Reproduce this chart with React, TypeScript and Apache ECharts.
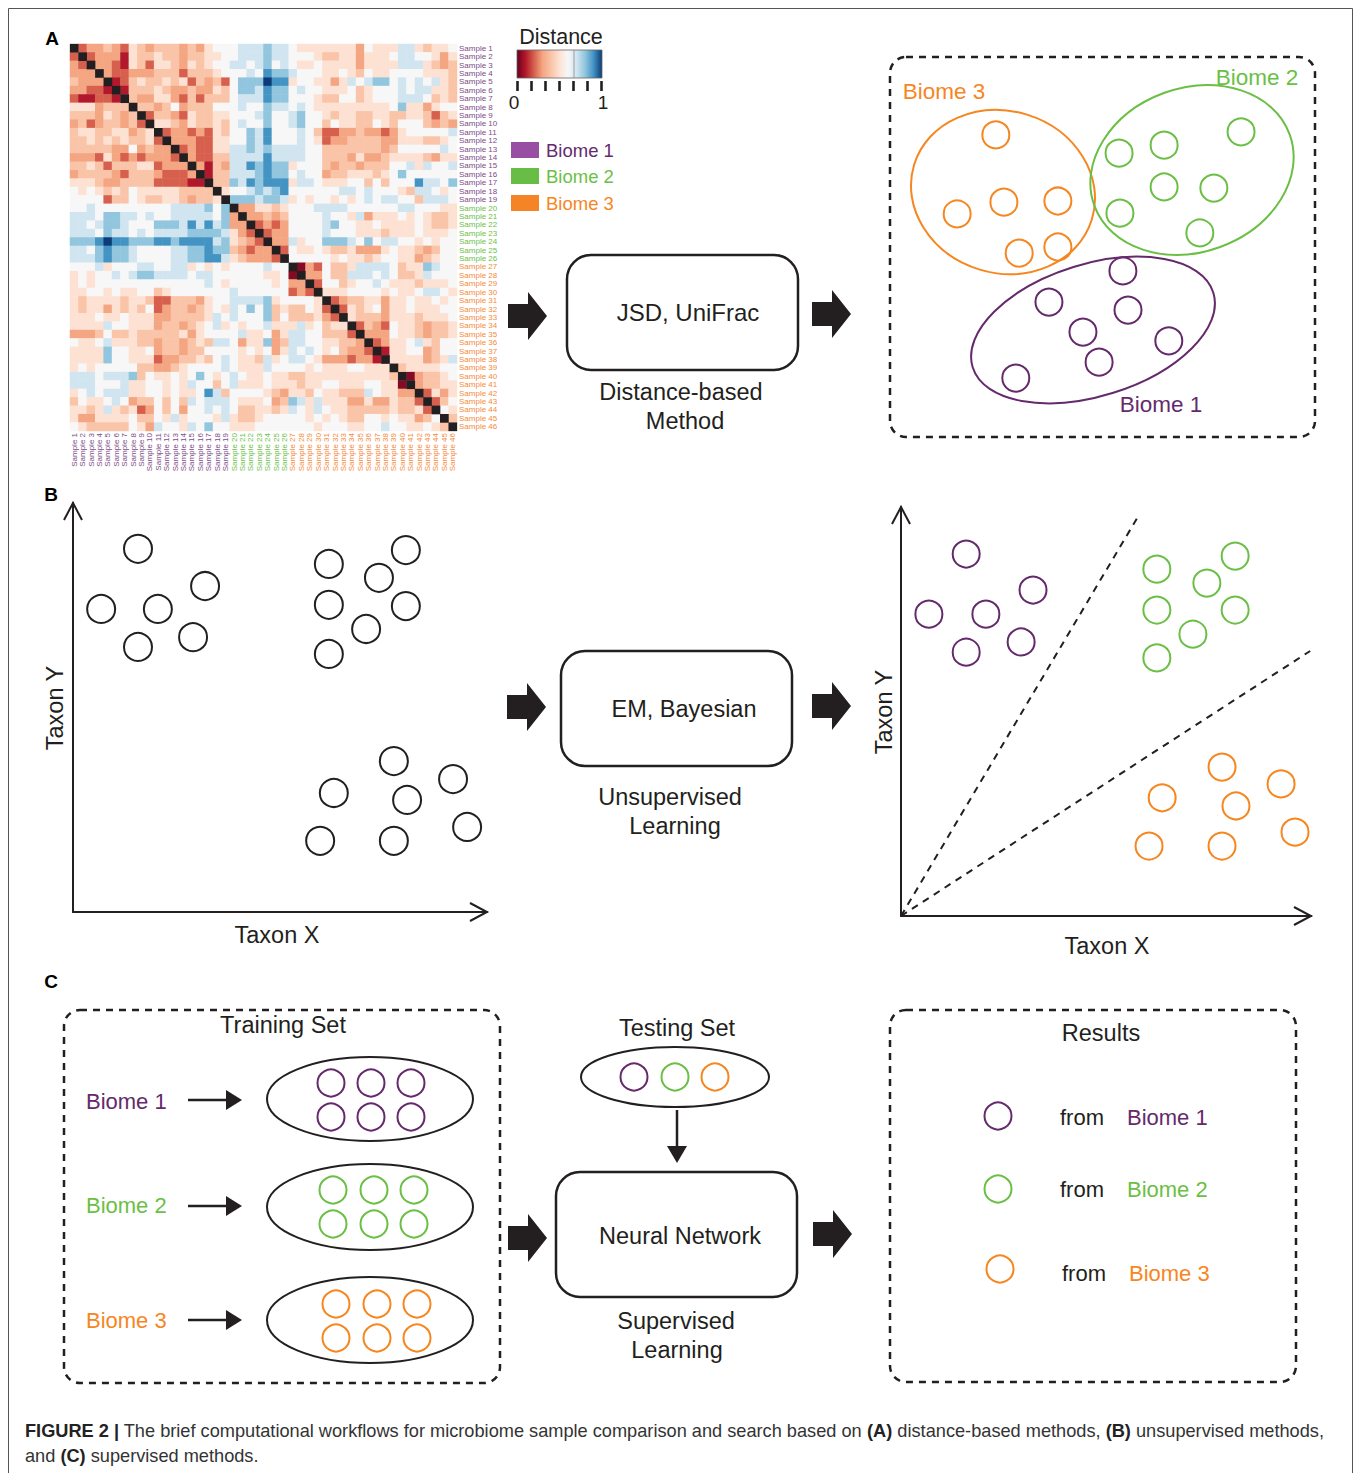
import React, { useEffect, useRef } from "react";
import * as echarts from "echarts";

const FONT = "'Liberation Sans', Arial, Helvetica, sans-serif";
const INK = "#231f20";
const PURPLE = "#652a6c";
const GREEN = "#6bbf45";
const ORANGE = "#f6861f";
const LABEL_COLORS: Record<string, string> = { "1": "#7d4b88", "2": "#6cc04a", "3": "#f58a3a" };

// ---------- Panel A heatmap ----------
const SAMPLE_LABELS = Array.from({ length: 46 }, (_, i) => "Sample " + (i + 1));
// biome of each sample (1..46)
const SAMPLE_BIOME = "1111111111111111111222222233333333333333333333";
// upper triangle of the distance matrix, row r holds columns r+1..46 (level codes)
const DIST_ROWS = [
  "2334325434443435666777" + "87765555555365557754556",
  "233315445443445566777" + "87766654455355567766535",
  "33215425543545667767" + "86765565555355557775434",
  "3223334442444566676" + "98876665565465566665554",
  "124544545243426888" + "a9956655357678867676754",
  "14445433433546887" + "98867665556456667677554",
  "4335532424446777" + "98866654466456667776454",
  "443463444666766" + "87767655555555568553566",
  "24432544556667" + "86678665455445544554245",
  "5543544546766" + "86678664655446546664343",
  "233232546687" + "96667642233433235666667",
  "33322556687" + "96667652334444335554456",
  "2322557787" + "87777664444444346666676",
  "322447777" + "97777664443533455554355",
  "31437798" + "98856664344344466757667",
  "1447778" + "98867663445554568666666",
  "448798" + "99957765556646466697768",
  "56678" + "78966666677676665477656",
  "8887" + "88756566565676776647776",
  "335" + "54566677776666667766655",
  "33" + "43466667665735556565445",
  "2" + "32366667866556555565445",
  "23366667666555455565556",
  "3375668887686776656566",
  "265565445333565543466",
  "66666565545665534566",
  "0326445777764558766",
  "336447776764457666",
  "26645667655545556",
  "5556666565567765",
  "234455355655656",
  "25456355655566",
  "5444355545556",
  "243265543445",
  "33365543445",
  "2355675466",
  "155663466",
  "55553457",
  "4555566",
  "034456",
  "34455",
  "2535",
  "246",
  "65",
  "4",
];
const LEVELS: Record<string, number> = {
  "0": 0.04, "1": 0.1, "2": 0.2, "3": 0.3, "4": 0.4, "5": 0.5,
  "6": 0.6, "7": 0.7, "8": 0.8, "9": 0.9, a: 1.0,
};
const DIST_COLORS = [
  "#67001f", "#b2182b", "#d6604d", "#f4a582", "#f9c4a8", "#fde2d4",
  "#f7f7f7", "#d1e5f0", "#92c5de", "#4393c3", "#0c3b78",
];

// ---------- Panel A ordination (0..100 units) ----------
const A_BIOME3 = [[24.9, 79.5], [15.8, 58.7], [26.8, 61.8], [39.5, 62.1], [30.4, 48.4], [39.5, 50.0]];
const A_BIOME2 = [[53.9, 74.7], [64.5, 76.8], [82.6, 80.3], [64.5, 65.8], [76.2, 65.5], [54.1, 58.9], [72.9, 53.7]];
const A_BIOME1 = [[54.8, 43.7], [37.4, 35.5], [56.0, 33.4], [45.4, 27.6], [65.6, 25.3], [49.2, 19.7], [29.6, 15.5]];

// ---------- Panel B raw samples (Taxon X, Taxon Y) ----------
const B_RAW = [
  [15.7, 88.8], [31.9, 79.7], [6.8, 74.1], [20.5, 74.1], [29.0, 67.2], [15.7, 64.8],
  [61.8, 85.1], [80.4, 88.5], [73.9, 81.7], [61.8, 75.1], [80.4, 74.8], [70.8, 69.2], [61.8, 63.1],
  [77.5, 36.9], [91.8, 32.5], [63.0, 29.1], [80.7, 27.4], [95.2, 20.8], [59.7, 17.4], [77.5, 17.4],
];
// ---------- Panel B clustered ----------
const B_BIOME1 = [[15.9, 88.5], [32.2, 79.7], [6.8, 73.8], [20.7, 73.8], [29.3, 67.0], [15.9, 64.5]];
const B_BIOME2 = [[62.4, 84.8], [81.5, 88.0], [74.6, 81.4], [62.4, 74.8], [81.5, 74.8], [71.2, 68.9], [62.4, 63.1]];
const B_BIOME3 = [[78.3, 36.4], [92.7, 32.3], [63.7, 28.9], [81.7, 26.9], [96.1, 20.5], [60.5, 17.1], [78.3, 17.1]];
const B_BOUNDARY1 = [[0, 0], [57.6, 97.3]];
const B_BOUNDARY2 = [[0, 0], [99.8, 64.8]];

const HM_SIZE = 387;
const HM_N = 46;

function circleScatter(data: number[][], color: string, xi: number, size = 27) {
  return {
    type: "scatter",
    xAxisIndex: xi,
    yAxisIndex: xi,
    data,
    symbol: "circle",
    symbolSize: size,
    silent: true,
    itemStyle: { color: "rgba(0,0,0,0)", borderColor: color, borderWidth: 2, opacity: 1 },
    emphasis: { disabled: true },
  };
}

function txt(text: string, x: number, y: number, size: number, fill = INK, align = "center", extra: any = {}) {
  return {
    type: "text",
    x,
    y,
    silent: true,
    style: { text, fill, fontSize: size, fontFamily: FONT, align, verticalAlign: "middle", ...extra },
  };
}

function blockArrow(x: number, yc: number) {
  return {
    type: "polygon",
    silent: true,
    shape: {
      points: [[x, yc - 12], [x + 20, yc - 12], [x + 20, yc - 24], [x + 39, yc], [x + 20, yc + 24], [x + 20, yc + 12], [x, yc + 12]],
    },
    style: { fill: INK },
  };
}

function thinArrowRight(x1: number, x2: number, y: number) {
  return [
    { type: "line", silent: true, shape: { x1, y1: y, x2: x2 - 14, y2: y }, style: { stroke: INK, lineWidth: 2.5 } },
    { type: "polygon", silent: true, shape: { points: [[x2 - 16, y - 10], [x2, y], [x2 - 16, y + 10]] }, style: { fill: INK } },
  ];
}

function ring(cx: number, cy: number, color: string, r = 13.5) {
  return { type: "circle", silent: true, shape: { cx, cy, r }, style: { fill: "none", stroke: color, lineWidth: 2 } };
}

function ell(cx: number, cy: number, rx: number, ry: number, color: string, rot = 0) {
  return {
    type: "ellipse",
    silent: true,
    x: cx,
    y: cy,
    rotation: rot,
    shape: { cx: 0, cy: 0, rx, ry },
    style: { fill: "none", stroke: color, lineWidth: 2 },
  };
}

function roundBox(x: number, y: number, w: number, h: number, dashed: boolean, r = 24) {
  return {
    type: "rect",
    silent: true,
    shape: { x, y, width: w, height: h, r },
    style: { fill: "none", stroke: INK, lineWidth: 2.5, lineDash: dashed ? [7, 6] : null },
  };
}

function chevron(points: number[][]) {
  return { type: "polyline", silent: true, shape: { points }, style: { stroke: INK, lineWidth: 2, fill: "none" } };
}

function buildHeatmap() {
  const data: number[][] = [];
  for (let i = 0; i < HM_N; i++) {
    for (let j = 0; j < HM_N; j++) {
      if (i === j) continue;
      const v = j > i ? LEVELS[DIST_ROWS[i][j - i - 1]] : LEVELS[DIST_ROWS[j][i - j - 1]];
      data.push([j, i, v ?? 0.6]);
    }
  }
  return data;
}

function buildDiagonal() {
  const d: number[][] = [];
  for (let i = 0; i < HM_N; i++) d.push([i, i]);
  return d;
}

export default function App() {
  const ref = useRef<HTMLDivElement>(null);
  useEffect(() => {
    if (!ref.current) return;
    const chart = echarts.init(ref.current, null, { renderer: "svg" });
    const labelColor = (val: any) => {
      const idx = SAMPLE_LABELS.indexOf(String(val));
      return LABEL_COLORS[SAMPLE_BIOME[idx]] || INK;
    };
    const hiddenAxis = (gi: number) => ({
      type: "value", gridIndex: gi, min: 0, max: 100, show: false,
    });
    const shownAxis = (gi: number) => ({
      type: "value", gridIndex: gi, min: 0, max: 100,
      axisLine: { show: true, lineStyle: { color: INK, width: 2 } },
      axisTick: { show: false }, axisLabel: { show: false }, splitLine: { show: false },
    });
    const LBL = 23.5;

    const graphics: any[] = [
      // outer frame
      { type: "rect", silent: true, shape: { x: 8.5, y: 8.5, width: 1344, height: 1520 }, style: { fill: "none", stroke: "#555", lineWidth: 1 } },
      // panel letters
      txt("A", 52, 38, 19, "#000", "center", { fontWeight: "bold" }),
      txt("B", 51, 494, 19, "#000", "center", { fontWeight: "bold" }),
      txt("C", 51, 981, 19, "#000", "center", { fontWeight: "bold" }),
      // colorbar
      txt("Distance", 561, 37, 21.5),
      {
        type: "rect", silent: true, shape: { x: 517, y: 50, width: 85, height: 28 },
        style: {
          fill: new echarts.graphic.LinearGradient(0, 0, 1, 0, DIST_COLORS.map((c, i) => ({ offset: i / 10, color: c }))),
          stroke: "#666", lineWidth: 0.8,
        },
      },
      { type: "line", silent: true, shape: { x1: 574, y1: 50, x2: 574, y2: 78 }, style: { stroke: "#888", lineWidth: 0.8 } },
      ...[517.5, 531.5, 545.5, 559.5, 573.5, 587.5, 601.5].map((x) => ({
        type: "rect", silent: true, shape: { x: x - 1.3, y: 81, width: 2.6, height: 10 }, style: { fill: INK },
      })),
      txt("0", 514, 102, 19),
      txt("1", 603, 102, 19),
      // biome legend
      { type: "rect", silent: true, shape: { x: 511, y: 142, width: 28, height: 16 }, style: { fill: "#984ea3" } },
      { type: "rect", silent: true, shape: { x: 511, y: 168, width: 28, height: 16 }, style: { fill: "#67bd45" } },
      { type: "rect", silent: true, shape: { x: 511, y: 195, width: 28, height: 16 }, style: { fill: "#f58426" } },
      txt("Biome 1", 546, 150, 18.5, PURPLE, "left"),
      txt("Biome 2", 546, 176, 18.5, GREEN, "left"),
      txt("Biome 3", 546, 203, 18.5, ORANGE, "left"),
      // panel A method
      blockArrow(508, 316),
      roundBox(567, 255, 231, 115, false),
      txt("JSD, UniFrac", 688, 312, 24),
      txt("Distance-based", 681, 392, LBL),
      txt("Method", 685, 421, LBL),
      blockArrow(812, 314),
      roundBox(890, 57, 425, 380, true, 16),
      ell(1003, 192, 93, 81, ORANGE, -0.3),
      ell(1192, 170, 104, 82, GREEN, 0.35),
      ell(1093, 330, 126, 66, PURPLE, 0.3),
      txt("Biome 3", 944, 91, 22.5, ORANGE),
      txt("Biome 2", 1257, 77, 22.5, GREEN),
      txt("Biome 1", 1161, 404, 22.5, PURPLE),
      // panel B
      chevron([[64, 520], [73, 503], [82, 520]]),
      chevron([[470, 903], [487, 912], [470, 921]]),
      {
        type: "text", silent: true, x: 55, y: 708, rotation: Math.PI / 2,
        style: { text: "Taxon Y", fill: INK, fontSize: LBL, fontFamily: FONT, align: "center", verticalAlign: "middle" },
      },
      txt("Taxon X", 277, 935, LBL),
      blockArrow(507, 707),
      roundBox(561, 651, 231, 115, false),
      txt("EM, Bayesian", 684, 709, LBL),
      txt("Unsupervised", 670, 797, LBL),
      txt("Learning", 675, 826, LBL),
      blockArrow(812, 706),
      chevron([[892, 524], [901, 507], [910, 524]]),
      chevron([[1294, 907], [1311, 916], [1294, 925]]),
      {
        type: "text", silent: true, x: 884, y: 712, rotation: Math.PI / 2,
        style: { text: "Taxon Y", fill: INK, fontSize: LBL, fontFamily: FONT, align: "center", verticalAlign: "middle" },
      },
      txt("Taxon X", 1107, 946, LBL),
      // panel C
      roundBox(64, 1010, 436, 373, true, 16),
      txt("Training Set", 283, 1025, LBL),
      txt("Biome 1", 86, 1101, 22, PURPLE, "left"),
      txt("Biome 2", 86, 1205, 22, GREEN, "left"),
      txt("Biome 3", 86, 1320, 22, ORANGE, "left"),
      ...thinArrowRight(188, 242, 1100),
      ...thinArrowRight(188, 242, 1206),
      ...thinArrowRight(188, 242, 1320),
      ell(370, 1099, 103, 42, INK),
      ell(370, 1207, 103, 43, INK),
      ell(370, 1320, 103, 43, INK),
      ...[331, 371, 411].flatMap((x) => [ring(x, 1083, PURPLE), ring(x, 1117, PURPLE)]),
      ...[333, 374, 414].flatMap((x) => [ring(x, 1190, GREEN), ring(x, 1224, GREEN)]),
      ...[336, 377, 417].flatMap((x) => [ring(x, 1304, ORANGE), ring(x, 1338, ORANGE)]),
      txt("Testing Set", 677, 1028, LBL),
      ell(675, 1077, 94, 30, INK),
      ring(634, 1077, PURPLE),
      ring(675, 1077, GREEN),
      ring(715, 1077, ORANGE),
      { type: "line", silent: true, shape: { x1: 677, y1: 1110, x2: 677, y2: 1148 }, style: { stroke: INK, lineWidth: 2.5 } },
      { type: "polygon", silent: true, shape: { points: [[667, 1146], [687, 1146], [677, 1163]] }, style: { fill: INK } },
      blockArrow(508, 1238),
      roundBox(556, 1172, 241, 125, false),
      txt("Neural Network", 680, 1236, LBL),
      txt("Supervised", 676, 1321, LBL),
      txt("Learning", 677, 1350, LBL),
      blockArrow(813, 1234),
      roundBox(890, 1010, 406, 372, true, 16),
      txt("Results", 1101, 1033, LBL),
      ring(998, 1116, PURPLE),
      ring(998, 1189, GREEN),
      ring(1000, 1269, ORANGE),
      txt("from", 1060, 1117, 22, INK, "left"),
      txt("Biome 1", 1127, 1117, 22, PURPLE, "left"),
      txt("from", 1060, 1189, 22, INK, "left"),
      txt("Biome 2", 1127, 1189, 22, GREEN, "left"),
      txt("from", 1062, 1273, 22, INK, "left"),
      txt("Biome 3", 1129, 1273, 22, ORANGE, "left"),
      // caption
      {
        type: "text", silent: true, x: 25, y: 1431,
        style: {
          text: "{b|FIGURE 2 |} The brief computational workflows for microbiome sample comparison and search based on {b|(A)} distance-based methods, {b|(B)} unsupervised methods,",
          fill: "#333", fontSize: 18.2, fontFamily: FONT, align: "left", verticalAlign: "middle",
          rich: { b: { fontWeight: "bold", fontSize: 18.2, fontFamily: FONT, fill: "#222" } },
        },
      },
      {
        type: "text", silent: true, x: 25, y: 1456,
        style: {
          text: "and {b|(C)} supervised methods.",
          fill: "#333", fontSize: 18.2, fontFamily: FONT, align: "left", verticalAlign: "middle",
          rich: { b: { fontWeight: "bold", fontSize: 18.2, fontFamily: FONT, fill: "#222" } },
        },
      },
    ];

    const option: any = {
      animation: false,
      backgroundColor: "#ffffff",
      grid: [
        { left: 70, top: 44, width: HM_SIZE, height: HM_SIZE },
        { left: 890, top: 57, width: 425, height: 380 },
        { left: 73, top: 503, width: 414, height: 409 },
        { left: 901, top: 507, width: 410, height: 409 },
      ],
      xAxis: [
        {
          type: "category", gridIndex: 0, data: SAMPLE_LABELS, position: "bottom",
          axisLine: { show: false }, axisTick: { show: false }, splitLine: { show: false },
          axisLabel: { interval: 0, rotate: 90, fontSize: 8, margin: 2, fontFamily: FONT, color: labelColor },
        },
        hiddenAxis(1),
        shownAxis(2),
        shownAxis(3),
      ],
      yAxis: [
        {
          type: "category", gridIndex: 0, data: SAMPLE_LABELS, inverse: true, position: "right",
          axisLine: { show: false }, axisTick: { show: false }, splitLine: { show: false },
          axisLabel: { interval: 0, fontSize: 8, margin: 2, fontFamily: FONT, color: labelColor },
        },
        hiddenAxis(1),
        shownAxis(2),
        shownAxis(3),
      ],
      visualMap: {
        show: false, type: "continuous", min: 0, max: 1, seriesIndex: 0, dimension: 2,
        inRange: { color: DIST_COLORS },
      },
      series: [
        {
          type: "heatmap", xAxisIndex: 0, yAxisIndex: 0, data: buildHeatmap(),
          silent: true, emphasis: { disabled: true }, progressive: 0,
        },
        {
          type: "scatter", xAxisIndex: 0, yAxisIndex: 0, data: buildDiagonal(),
          symbol: "rect", symbolSize: HM_SIZE / HM_N + 0.3, silent: true,
          itemStyle: { color: INK, opacity: 1 }, emphasis: { disabled: true },
        },
        circleScatter(A_BIOME3, ORANGE, 1),
        circleScatter(A_BIOME2, GREEN, 1),
        circleScatter(A_BIOME1, PURPLE, 1),
        circleScatter(B_RAW, INK, 2, 28),
        circleScatter(B_BIOME1, PURPLE, 3),
        circleScatter(B_BIOME2, GREEN, 3),
        circleScatter(B_BIOME3, ORANGE, 3),
        {
          type: "line", xAxisIndex: 3, yAxisIndex: 3, data: B_BOUNDARY1, symbol: "none", silent: true,
          lineStyle: { color: INK, width: 2, type: [7, 6] },
        },
        {
          type: "line", xAxisIndex: 3, yAxisIndex: 3, data: B_BOUNDARY2, symbol: "none", silent: true,
          lineStyle: { color: INK, width: 2, type: [7, 6] },
        },
      ],
      graphic: { elements: graphics },
    };
    chart.setOption(option);
    return () => chart.dispose();
  }, []);
  return (
    <div
      ref={ref}
      style={{ position: "absolute", left: 0, top: 0, width: 1358, height: 1473, background: "#fff" }}
    />
  );
}
